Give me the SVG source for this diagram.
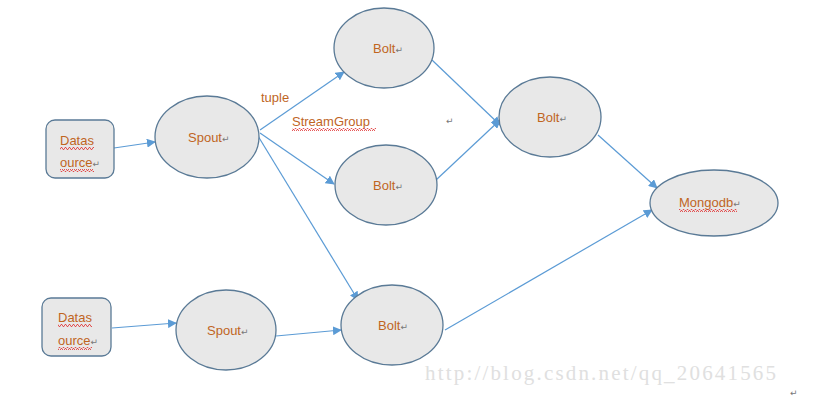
<svg xmlns="http://www.w3.org/2000/svg" width="831" height="414" viewBox="0 0 831 414">
<style>
.n{fill:#e8e8e8;stroke:#5a7a96;stroke-width:1.3}
.t{font-family:"Liberation Sans",Arial,sans-serif;font-size:13px;fill:#c0651f}
.pm{font-family:"DejaVu Sans",sans-serif;font-size:9px;fill:#777}
.c{stroke:#5b9bd5;stroke-width:1.2;fill:none;marker-end:url(#a)}
.wm{font-family:"Liberation Serif","DejaVu Serif",serif;font-size:21px;fill:#e0e0e0}
</style>
<defs>
<marker id="a" viewBox="0 0 10 10" refX="9" refY="5" markerWidth="9" markerHeight="9" markerUnits="userSpaceOnUse" orient="auto">
<path d="M0,0 L10,5 L0,10 z" fill="#5b9bd5"/>
</marker>
<pattern id="w" width="4" height="3" patternUnits="userSpaceOnUse">
<path d="M0,2.5 L1,0.5 L2,0.5 L3,2.5 L4,2.5" stroke="#e03030" stroke-width="0.8" fill="none"/>
</pattern>
</defs>
<rect width="831" height="414" fill="#fff"/>
<text class="wm" x="425" y="380" textLength="351" lengthAdjust="spacing">http://blog.csdn.net/qq_20641565</text>
<g id="connectors">
<line class="c" x1="114" y1="148" x2="155" y2="142"/>
<line class="c" x1="260" y1="130" x2="344" y2="72"/>
<line class="c" x1="260" y1="133" x2="334" y2="184"/>
<line class="c" x1="258" y1="136" x2="358" y2="300"/>
<line class="c" x1="432" y1="60" x2="500" y2="125"/>
<line class="c" x1="436" y1="180" x2="500" y2="120"/>
<line class="c" x1="598" y1="135" x2="657" y2="188"/>
<line class="c" x1="445" y1="330" x2="652" y2="210"/>
<line class="c" x1="112" y1="328" x2="176" y2="323"/>
<line class="c" x1="276" y1="336" x2="341" y2="330"/>
</g>
<g id="ds1">
<rect class="n" x="46" y="120" width="68" height="58" rx="9"/>
<text class="t" x="60" y="145">Datas</text>
<text class="t" x="60" y="167">ource<tspan class="pm">↵</tspan></text>
<rect x="60" y="147" width="34" height="3" fill="url(#w)"/>
<rect x="60" y="169" width="34" height="3" fill="url(#w)"/>
</g>
<g id="ds2">
<rect class="n" x="42" y="298" width="69" height="58" rx="9"/>
<text class="t" x="58" y="322">Datas</text>
<text class="t" x="58" y="345">ource<tspan class="pm">↵</tspan></text>
<rect x="58" y="324" width="34" height="3" fill="url(#w)"/>
<rect x="58" y="347" width="34" height="3" fill="url(#w)"/>
</g>
<g id="spout1">
<ellipse class="n" cx="207" cy="137" rx="52" ry="41"/>
<text class="t" x="188" y="142">Spout<tspan class="pm">↵</tspan></text>
</g>
<g id="spout2">
<ellipse class="n" cx="226" cy="330" rx="50" ry="40"/>
<text class="t" x="207" y="335">Spout<tspan class="pm">↵</tspan></text>
</g>
<g id="bolt1">
<ellipse class="n" cx="384" cy="48" rx="50" ry="40"/>
<text class="t" x="373" y="53">Bolt<tspan class="pm">↵</tspan></text>
</g>
<g id="bolt2">
<ellipse class="n" cx="386" cy="185" rx="51" ry="40"/>
<text class="t" x="373" y="190">Bolt<tspan class="pm">↵</tspan></text>
</g>
<g id="bolt3">
<ellipse class="n" cx="550" cy="117" rx="51" ry="40"/>
<text class="t" x="537" y="122">Bolt<tspan class="pm">↵</tspan></text>
</g>
<g id="bolt4">
<ellipse class="n" cx="392" cy="325" rx="51" ry="40"/>
<text class="t" x="378" y="330">Bolt<tspan class="pm">↵</tspan></text>
</g>
<g id="mongodb">
<ellipse class="n" cx="714" cy="203" rx="64" ry="33"/>
<text class="t" x="679" y="207">Mongodb<tspan class="pm">↵</tspan></text>
<rect x="679" y="209" width="58" height="3" fill="url(#w)"/>
</g>
<g id="labels">
<text class="t" x="261" y="102">tuple</text>
<text class="t" x="292" y="126">StreamGroup</text>
<rect x="292" y="128" width="84" height="3" fill="url(#w)"/>
<text class="pm" x="446" y="124">↵</text>
<text class="pm" x="790" y="396">↵</text>
</g>
</svg>
